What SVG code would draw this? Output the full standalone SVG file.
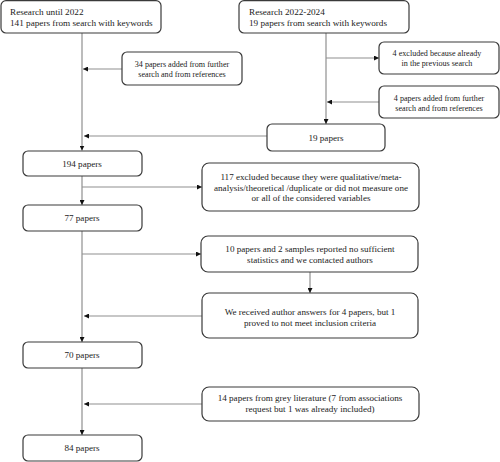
<svg xmlns="http://www.w3.org/2000/svg" width="500" height="462" viewBox="0 0 500 462">
<defs>
<marker id="ah" viewBox="0 0 8 8" refX="8" refY="4" markerWidth="5" markerHeight="5" markerUnits="userSpaceOnUse" orient="auto">
<path d="M0,0 L8,4 L0,8 Z" fill="#111"/>
</marker>
<style>
.box{fill:#fff;stroke:#3a3a3a;stroke-width:1.2}
.ln{stroke:#8f8f8f;stroke-width:1.2;fill:none}
text{font-family:'Liberation Serif','Times New Roman',serif;fill:#222}
.big{font-size:9.2px}
.mid{font-size:9.1px;text-anchor:middle}
.sm{font-size:8.1px;text-anchor:middle}
</style>
</defs>
<g id="connectors">
<line class="ln" x1="82" y1="33" x2="82" y2="150.5" marker-end="url(#ah)"/>
<line class="ln" x1="122" y1="69" x2="83" y2="69" marker-end="url(#ah)"/>
<line class="ln" x1="267" y1="136" x2="84" y2="136" marker-end="url(#ah)"/>
<line class="ln" x1="326" y1="33" x2="326" y2="124" marker-end="url(#ah)"/>
<line class="ln" x1="326" y1="58" x2="379" y2="58" marker-end="url(#ah)"/>
<line class="ln" x1="379" y1="102" x2="327" y2="102" marker-end="url(#ah)"/>
<line class="ln" x1="82" y1="176" x2="82" y2="205" marker-end="url(#ah)"/>
<line class="ln" x1="82" y1="187" x2="202" y2="187" marker-end="url(#ah)"/>
<line class="ln" x1="82" y1="231" x2="82" y2="342" marker-end="url(#ah)"/>
<line class="ln" x1="82" y1="254" x2="201" y2="254" marker-end="url(#ah)"/>
<line class="ln" x1="310" y1="272" x2="310" y2="293" marker-end="url(#ah)"/>
<line class="ln" x1="202" y1="316" x2="84" y2="316" marker-end="url(#ah)"/>
<line class="ln" x1="82" y1="368" x2="82" y2="435" marker-end="url(#ah)"/>
<line class="ln" x1="202" y1="404" x2="84" y2="404" marker-end="url(#ah)"/>
</g>
<g id="n1"><rect class="box" x="1" y="0.6" width="160" height="32.4" rx="5"/>
<text class="big" x="10" y="15">Research until 2022</text>
<text class="big" x="10" y="25.5">141 papers from search with keywords</text></g>
<g id="n2"><rect class="box" x="239" y="0.6" width="170" height="32.4" rx="5"/>
<text class="big" x="249" y="15">Research 2022-2024</text>
<text class="big" x="249" y="25.5">19 papers from search with keywords</text></g>
<g id="n3"><rect class="box" x="122" y="52" width="120" height="33" rx="5"/>
<text class="sm" x="182" y="67">34 papers added from further</text>
<text class="sm" x="182" y="76.5">search and from references</text></g>
<g id="n4"><rect class="box" x="379" y="42" width="120" height="32" rx="5"/>
<text class="sm" x="437" y="56">4 excluded because already</text>
<text class="sm" x="437" y="65.5">in the previous search</text></g>
<g id="n5"><rect class="box" x="379" y="86" width="120" height="32" rx="5"/>
<text class="sm" x="439" y="101">4 papers added from further</text>
<text class="sm" x="439" y="110.5">search and from references</text></g>
<g id="n6"><rect class="box" x="267" y="124" width="118" height="27" rx="5"/>
<text class="mid" x="326" y="141">19 papers</text></g>
<g id="n7"><rect class="box" x="23" y="151" width="119" height="25" rx="5"/>
<text class="mid" x="82" y="167">194 papers</text></g>
<g id="n8"><rect class="box" x="202" y="163" width="217" height="48" rx="7"/>
<text class="mid" x="311" y="180">117 excluded because they were qualitative/meta-</text>
<text class="mid" x="311" y="190.5">analysis/theoretical /duplicate or did not measure one</text>
<text class="mid" x="311" y="201">or all of the considered variables</text></g>
<g id="n9"><rect class="box" x="23" y="205" width="119" height="26" rx="5"/>
<text class="mid" x="82" y="221">77 papers</text></g>
<g id="n10"><rect class="box" x="201" y="236" width="217" height="36" rx="7"/>
<text class="mid" x="310" y="252">10 papers and 2 samples reported no sufficient</text>
<text class="mid" x="310" y="262.5">statistics and we contacted authors</text></g>
<g id="n11"><rect class="box" x="202" y="293" width="216" height="45" rx="7"/>
<text class="mid" x="310" y="315">We received author answers for 4 papers, but 1</text>
<text class="mid" x="310" y="325.5">proved to not meet inclusion criteria</text></g>
<g id="n12"><rect class="box" x="23" y="342" width="119" height="26" rx="5"/>
<text class="mid" x="82" y="358">70 papers</text></g>
<g id="n13"><rect class="box" x="202" y="387" width="217" height="34" rx="7"/>
<text class="mid" x="310" y="401">14 papers from grey literature (7 from associations</text>
<text class="mid" x="310" y="412">request but 1 was already included)</text></g>
<g id="n14"><rect class="box" x="23" y="435" width="119" height="26" rx="5"/>
<text class="mid" x="82" y="451">84 papers</text></g>
</svg>
